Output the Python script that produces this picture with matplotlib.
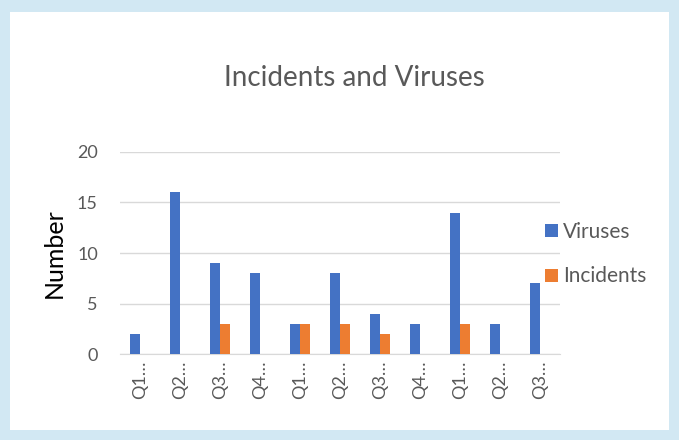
import matplotlib
matplotlib.use("Agg")
import matplotlib.pyplot as plt
import numpy as np
from matplotlib.patches import Rectangle

plt.rcParams['font.family'] = ['Lato', 'DejaVu Sans']

categories = ["Q1…", "Q2…", "Q3…", "Q4…", "Q1…", "Q2…", "Q3…", "Q4…", "Q1…", "Q2…", "Q3…"]
viruses = [2, 16, 9, 8, 3, 8, 4, 3, 14, 3, 7]
incidents = [0, 0, 3, 0, 3, 3, 2, 0, 3, 0, 0]

blue = "#4472c4"
orange = "#ed7d31"
grey_text = "#595959"
grid_col = "#d9d9d9"
frame_col = "#d2e8f3"

fig = plt.figure(figsize=(6.79, 4.40), dpi=100)
fig.patch.set_facecolor("white")

# light blue frame around the chart panel
fig.patches.append(Rectangle((0, 0), 1, 1, transform=fig.transFigure,
                             facecolor=frame_col, edgecolor="none", zorder=-2))
fig.patches.append(Rectangle((10 / 679, 10 / 440), 1 - 20 / 679, 1 - 22 / 440,
                             transform=fig.transFigure, facecolor="white",
                             edgecolor="none", zorder=-1))

ax = fig.add_axes([120 / 679, 1 - 354 / 440, 440 / 679, 202 / 440])
ax.set_facecolor("none")

x = np.arange(len(categories))
w = 0.25
ax.bar(x - w / 2, viruses, width=w, color=blue, label="Viruses", zorder=3)
ax.bar(x + w / 2, incidents, width=w, color=orange, label="Incidents", zorder=3)

ax.set_xlim(-0.5, len(categories) - 0.5)
ax.set_ylim(0, 20)
ax.set_yticks([0, 5, 10, 15, 20])
ax.yaxis.grid(True, color=grid_col, linewidth=1)
ax.set_axisbelow(True)
for side in ("top", "right", "left"):
    ax.spines[side].set_visible(False)
ax.spines["bottom"].set_color(grid_col)
ax.tick_params(axis="both", length=0, colors=grey_text, labelsize=13)
ax.tick_params(axis="y", pad=16)
ax.tick_params(axis="x", pad=5)
ax.set_xticks(x)
ax.set_xticklabels(categories, rotation=90)

ax.set_ylabel("Number", fontsize=18, color="black", labelpad=8)

fig.text(354 / 679, 1 - 78 / 440, "Incidents and Viruses", ha="center", va="center",
         fontsize=20, color=grey_text)

fig.legend(loc="center left", bbox_to_anchor=(545 / 679, 1 - 254 / 440), frameon=False,
           fontsize=15, labelcolor=grey_text, handlelength=0.6, handleheight=0.6,
           handletextpad=0.25, labelspacing=1.2, borderaxespad=0, borderpad=0)

fig.savefig("out.png", dpi=100, facecolor=fig.get_facecolor())
